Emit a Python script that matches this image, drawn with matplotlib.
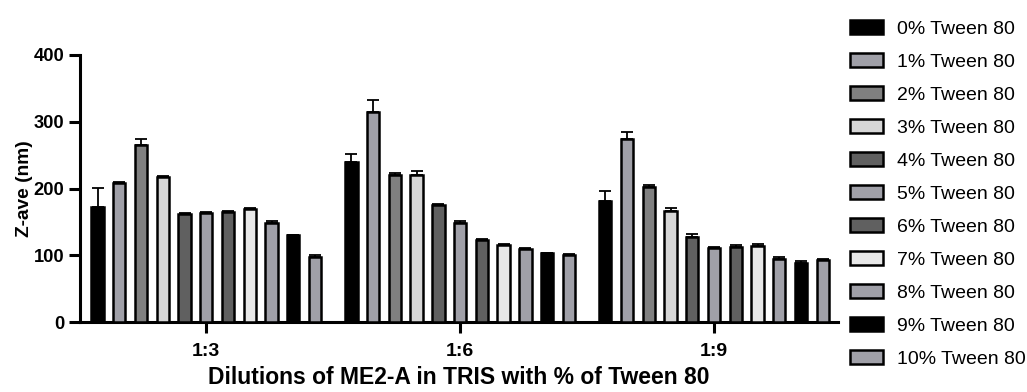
import numpy as np
import matplotlib
matplotlib.use('Agg')
import matplotlib.pyplot as plt

plt.rcParams['font.family'] = ['Liberation Sans', 'DejaVu Sans']

dilutions = ['1:3', '1:6', '1:9']
tween = ['0% Tween 80', '1% Tween 80', '2% Tween 80', '3% Tween 80', '4% Tween 80',
         '5% Tween 80', '6% Tween 80', '7% Tween 80', '8% Tween 80', '9% Tween 80',
         '10% Tween 80']

# Z-average (nm) per dilution, one value per Tween 80 concentration
zave_13 = [173, 208, 265, 217, 162, 163, 165, 169, 148, 130, 98]
zave_16 = [240, 315, 220, 221, 176, 148, 123, 115, 110, 103, 101]
zave_19 = [181, 274, 203, 166, 127, 111, 112, 114, 94, 89, 93]

err_13 = [28, 2, 9, 2, 1, 2, 2, 2, 4, 1, 3]
err_16 = [11, 17, 4, 6, 1, 4, 1, 2, 1, 1, 1]
err_19 = [16, 10, 3, 5, 5, 1, 4, 3, 4, 2, 2]

colors = ['#000000', '#a0a0a8', '#808080', '#d6d6d6', '#606060', '#a0a0a8',
          '#606060', '#e8e8e8', '#a0a0a8', '#000000', '#a0a0a8']

values = [zave_13, zave_16, zave_19]
errors = [err_13, err_16, err_19]

group_step = 11.67
n = len(tween)

fig = plt.figure(figsize=(10.27, 3.92), dpi=100)
ax = fig.add_axes([0.078, 0.178, 0.738, 0.682])

for i in range(n):
    xs = [g * group_step + (i - 5) for g in range(len(dilutions))]
    ys = [values[g][i] for g in range(len(dilutions))]
    es = [errors[g][i] for g in range(len(dilutions))]
    ax.errorbar(xs, ys, yerr=[np.zeros(len(es)), es], fmt='none', ecolor='black',
                elinewidth=1.3, capsize=4, capthick=1.3, zorder=2)
    ax.bar(xs, ys, width=0.57, color=colors[i], edgecolor='black', linewidth=1.8,
           label=tween[i], zorder=3)

ax.set_xlim(-5.8, 2 * group_step + 5.7)
ax.set_ylim(0, 400)
ax.set_yticks([0, 100, 200, 300, 400])
ax.set_xticks([g * group_step for g in range(len(dilutions))])
ax.set_xticklabels(dilutions)

for side in ['top', 'right']:
    ax.spines[side].set_visible(False)
for side in ['left', 'bottom']:
    ax.spines[side].set_linewidth(2.2)
ax.tick_params(axis='both', width=2.2, length=8)
ax.tick_params(axis='y', labelsize=13.2)
ax.tick_params(axis='x', labelsize=14, pad=7)
for lbl in ax.get_xticklabels() + ax.get_yticklabels():
    lbl.set_fontweight('bold')

ax.set_ylabel('Z-ave (nm)', fontsize=13.8, fontweight='bold', labelpad=0.5)
ax.set_xlabel('Dilutions of ME2-A in TRIS with % of Tween 80', fontsize=16.5,
              fontweight='bold', labelpad=4)

fig.legend(loc='upper left', bbox_to_anchor=(0.828, 0.948), frameon=False,
           fontsize=14, handlelength=1.7, handleheight=0.67, labelspacing=0.8,
           handletextpad=0.72, borderpad=0, borderaxespad=0)

fig.savefig('out.png', dpi=100)
